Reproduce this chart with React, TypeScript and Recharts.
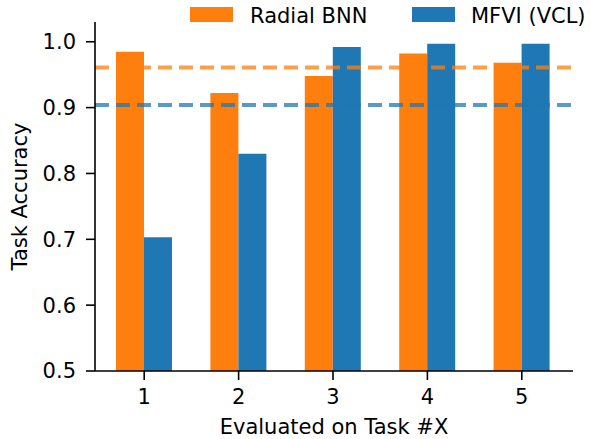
import {
  Bar,
  ComposedChart,
  Label,
  Legend,
  ReferenceLine,
  XAxis,
  YAxis,
} from "recharts";

const tasks = ["1", "2", "3", "4", "5"];
const radialBnn = [0.985, 0.922, 0.948, 0.982, 0.968];
const mfviVcl = [0.703, 0.83, 0.992, 0.997, 0.997];
const yTicks = [0.5, 0.6, 0.7, 0.8, 0.9, 1.0];

const ORANGE = "#ff7f0e";
const BLUE = "#1f77b4";
const FONT = "'DejaVu Sans', sans-serif";

const mean = (xs: number[]) => xs.reduce((a, b) => a + b, 0) / xs.length;

const data = tasks.map((t, i) => ({
  task: t,
  radial: radialBnn[i],
  mfvi: mfviVcl[i],
}));

function LegendBox() {
  return (
    <svg width={590} height={30} style={{ display: "block" }}>
      <rect x={190} y={7} width={43} height={15} fill={ORANGE} />
      <text x={250} y={22.5} fontSize={21} fontFamily={FONT} fill="#000">
        Radial BNN
      </text>
      <rect x={412} y={7} width={43} height={15} fill={BLUE} />
      <text x={471} y={22.5} fontSize={21} fontFamily={FONT} fill="#000">
        MFVI (VCL)
      </text>
    </svg>
  );
}

export default function App() {
  const tick = { fontSize: 21, fill: "#000", fontFamily: FONT };
  const axisLine = { stroke: "#000", strokeWidth: 1.6 };
  return (
    <div style={{ position: "absolute", left: 0, top: 0, background: "#fff" }}>
      <ComposedChart
        width={590}
        height={439}
        data={data}
        margin={{ top: 22, right: 17, bottom: 0, left: 0 }}
        barGap={0}
      >
        <XAxis
          dataKey="task"
          height={68}
          padding={{ left: 2, right: 4 }}
          tick={tick}
          tickSize={9}
          tickMargin={9}
          axisLine={axisLine}
          tickLine={axisLine}
        >
          <Label
            value="Evaluated on Task #X"
            position="insideBottom"
            offset={5}
            style={{ fontSize: 21, fill: "#000", fontFamily: FONT }}
          />
        </XAxis>
        <YAxis
          width={95}
          domain={[0.5, 1.03]}
          ticks={yTicks}
          allowDataOverflow
          tickFormatter={(v: number) => v.toFixed(1)}
          tick={tick}
          tickSize={9}
          tickMargin={10}
          axisLine={axisLine}
          tickLine={axisLine}
        >
          <Label
            value="Task Accuracy"
            angle={-90}
            position="insideLeft"
            offset={20}
            style={{
              fontSize: 21,
              fill: "#000",
              fontFamily: FONT,
              textAnchor: "middle",
            }}
          />
        </YAxis>
        <Legend
          verticalAlign="middle"
          wrapperStyle={{ top: 0, left: 0, width: 590 }}
          content={() => <LegendBox />}
        />
        <Bar
          dataKey="radial"
          name="Radial BNN"
          fill={ORANGE}
          barSize={28}
          isAnimationActive={false}
        />
        <Bar
          dataKey="mfvi"
          name="MFVI (VCL)"
          fill={BLUE}
          barSize={28}
          isAnimationActive={false}
        />
        <ReferenceLine
          y={mean(radialBnn)}
          stroke={ORANGE}
          strokeOpacity={0.75}
          strokeWidth={4}
          strokeDasharray="14 7"
        />
        <ReferenceLine
          y={mean(mfviVcl)}
          stroke={BLUE}
          strokeOpacity={0.75}
          strokeWidth={4}
          strokeDasharray="14 7"
        />
      </ComposedChart>
    </div>
  );
}
